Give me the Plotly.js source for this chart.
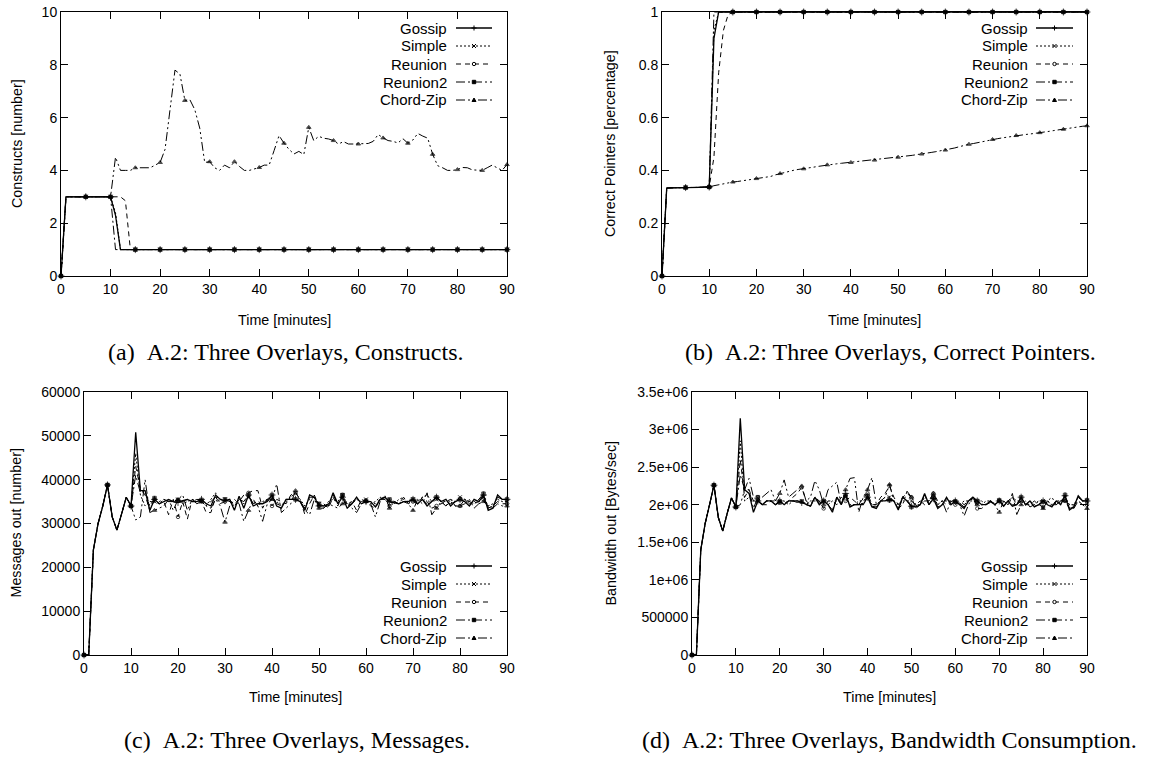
<!DOCTYPE html>
<html><head><meta charset="utf-8">
<script src="https://cdn.plot.ly/plotly-3.0.1.min.js"></script>
<style>html,body{margin:0;padding:0;background:#fff}#chart{width:1158px;height:760px}</style>
</head><body><div id="chart"></div>
<script>
// ---------- DATA ----------
const minutes = [0,1,2,3,4,5,6,7,8,9,10,11,12,13,14,15,16,17,18,19,20,21,22,23,24,25,26,27,28,29,30,31,32,33,34,35,36,37,38,39,40,41,42,43,44,45,46,47,48,49,50,51,52,53,54,55,56,57,58,59,60,61,62,63,64,65,66,67,68,69,70,71,72,73,74,75,76,77,78,79,80,81,82,83,84,85,86,87,88,89,90];
const seriesNames = ['Gossip','Simple','Reunion','Reunion2','Chord-Zip'];

// (a) Constructs [number]
const constructsGossip = [0,3,3,3,3,3,3,3,3,3, 3,2.3,1,1,1,1,1,1,1,1, 1,1,1,1,1,1,1,1,1,1, 1,1,1,1,1,1,1,1,1,1, 1,1,1,1,1,1,1,1,1,1, 1,1,1,1,1,1,1,1,1,1, 1,1,1,1,1,1,1,1,1,1, 1,1,1,1,1,1,1,1,1,1, 1,1,1,1,1,1,1,1,1,1, 1];
const constructsSimple = [0,3,3,3,3,3,3,3,3,3, 3,2.4,1,1,1,1,1,1,1,1, 1,1,1,1,1,1,1,1,1,1, 1,1,1,1,1,1,1,1,1,1, 1,1,1,1,1,1,1,1,1,1, 1,1,1,1,1,1,1,1,1,1, 1,1,1,1,1,1,1,1,1,1, 1,1,1,1,1,1,1,1,1,1, 1,1,1,1,1,1,1,1,1,1, 1];
const constructsReunion = [0,3,3,3,3,3,3,3,3,3, 3,3,3,2.85,1,1,1,1,1,1, 1,1,1,1,1,1,1,1,1,1, 1,1,1,1,1,1,1,1,1,1, 1,1,1,1,1,1,1,1,1,1, 1,1,1,1,1,1,1,1,1,1, 1,1,1,1,1,1,1,1,1,1, 1,1,1,1,1,1,1,1,1,1, 1,1,1,1,1,1,1,1,1,1, 1];
const constructsReunion2 = [0,3,3,3,3,3,3,3,3,3, 3,1,1,1,1,1,1,1,1,1, 1,1,1,1,1,1,1,1,1,1, 1,1,1,1,1,1,1,1,1,1, 1,1,1,1,1,1,1,1,1,1, 1,1,1,1,1,1,1,1,1,1, 1,1,1,1,1,1,1,1,1,1, 1,1,1,1,1,1,1,1,1,1, 1,1,1,1,1,1,1,1,1,1, 1];
const constructsChordZip = [0,3,3,3,3,3,3,3,3,3, 3,4.5,4.0,4.0,4.0,4.1,4.1,4.1,4.1,4.2, 4.3,4.8,6.2,7.8,7.65,6.65,6.68,6.3,5.6,4.3, 4.33,4.1,4.0,4.2,4.1,4.33,4.15,4.0,4.0,4.05, 4.11,4.2,4.2,4.75,5.32,5.03,4.8,4.62,4.72,4.6, 5.63,5.13,5.29,5.22,5.19,5.13,5.0,5.09,5.0,5.0, 5.0,5.0,5.02,5.1,5.36,5.23,5.13,5.1,5.04,5.2, 5.03,5.15,5.4,5.3,5.22,4.61,4.18,4.1,4.0,4.0, 4.03,4.11,4.1,4.02,4.0,4.0,4.1,4.2,4.1,4.0, 4.22];

// (b) Correct Pointers [percentage]
const pointersGossip = [0,0.333,0.334,0.334,0.335,0.335,0.335,0.336,0.336,0.337, 0.337,0.9,1,1,1,1,1,1,1,1, 1,1,1,1,1,1,1,1,1,1, 1,1,1,1,1,1,1,1,1,1, 1,1,1,1,1,1,1,1,1,1, 1,1,1,1,1,1,1,1,1,1, 1,1,1,1,1,1,1,1,1,1, 1,1,1,1,1,1,1,1,1,1, 1,1,1,1,1,1,1,1,1,1, 1];
const pointersSimple = [0,0.333,0.334,0.334,0.335,0.335,0.335,0.336,0.336,0.337, 0.337,0.93,1,1,1,1,1,1,1,1, 1,1,1,1,1,1,1,1,1,1, 1,1,1,1,1,1,1,1,1,1, 1,1,1,1,1,1,1,1,1,1, 1,1,1,1,1,1,1,1,1,1, 1,1,1,1,1,1,1,1,1,1, 1,1,1,1,1,1,1,1,1,1, 1,1,1,1,1,1,1,1,1,1, 1];
const pointersReunion = [0,0.333,0.334,0.334,0.335,0.335,0.335,0.336,0.336,0.337, 0.337,0.45,0.77,0.93,0.99,1,1,1,1,1, 1,1,1,1,1,1,1,1,1,1, 1,1,1,1,1,1,1,1,1,1, 1,1,1,1,1,1,1,1,1,1, 1,1,1,1,1,1,1,1,1,1, 1,1,1,1,1,1,1,1,1,1, 1,1,1,1,1,1,1,1,1,1, 1,1,1,1,1,1,1,1,1,1, 1];
const pointersReunion2 = [0,0.333,0.334,0.334,0.335,0.335,0.335,0.336,0.336,0.337, 0.337,1,1,1,1,1,1,1,1,1, 1,1,1,1,1,1,1,1,1,1, 1,1,1,1,1,1,1,1,1,1, 1,1,1,1,1,1,1,1,1,1, 1,1,1,1,1,1,1,1,1,1, 1,1,1,1,1,1,1,1,1,1, 1,1,1,1,1,1,1,1,1,1, 1,1,1,1,1,1,1,1,1,1, 1];
const pointersChordZip = [0,0.333,0.334,0.334,0.335,0.335,0.335,0.336,0.336,0.337, 0.337,0.342,0.346,0.349,0.352,0.356,0.358,0.360,0.363,0.366, 0.369,0.372,0.375,0.377,0.383,0.388,0.392,0.396,0.401,0.404, 0.406,0.409,0.412,0.415,0.418,0.421,0.423,0.425,0.427,0.429, 0.430,0.432,0.434,0.436,0.437,0.439,0.441,0.443,0.446,0.448, 0.450,0.452,0.455,0.457,0.460,0.462,0.465,0.468,0.471,0.474, 0.477,0.480,0.485,0.490,0.495,0.499,0.502,0.506,0.510,0.514, 0.517,0.520,0.523,0.526,0.529,0.532,0.534,0.536,0.538,0.540, 0.543,0.545,0.548,0.551,0.554,0.556,0.559,0.562,0.565,0.567, 0.569];

// (c) Messages out [number]
const messagesGossip = [0,0,24000,30000,34000,38800,31500,28500,32200,36000, 34000,50800,37500,37500,33000,35500,34500,35000,35500,35000, 34800,35200,35500,35000,35000,35500,34500,34000,36500,35500, 35200,35500,33000,36200,33500,36500,34000,34500,34500,35000, 36500,34000,33500,35500,35500,35500,35000,33000,36500,36000, 34000,34000,34000,37000,34500,36000,33500,34500,36000,34500, 35000,35000,33800,35500,36000,35000,34800,34500,35000,35000, 35500,34500,35500,34000,35000,36000,35000,35500,34000,35000, 35500,35000,34000,35500,35000,36500,33000,33500,36500,35500, 35500];
const messagesSimple = [0,0,24000,30000,34000,38800,31500,28500,32200,36000, 34000,46000,36500,34000,35000,35000,34500,35500,35000,35000, 35500,34500,35000,35500,35000,35000,34000,35500,37000,34500, 35500,35000,34000,35500,34500,36000,35000,34000,35000,35500, 35500,35000,34000,35000,36000,37000,35500,34000,35500,36000, 34500,33500,35000,35500,35000,36500,34500,35000,35500,35000, 35500,34500,35000,36000,35500,35000,34500,35500,36000,34500, 35500,35000,36000,36500,35000,35500,35000,34000,35500,35000, 36000,35500,35000,34500,35500,36000,34000,34500,35500,35000, 35000];
const messagesReunion = [0,0,24000,30000,34000,38800,31500,28500,32200,36000, 34000,43000,38000,36500,33000,35500,34500,35000,32000,35500, 31500,35000,31000,35500,35000,35000,32500,32500,36000,34500, 35000,35500,34000,35000,36500,37000,37500,37500,33500,35500, 34000,35500,35000,34500,36500,37000,35500,32000,34500,36500, 34000,34500,33500,36000,34000,36500,34000,35000,33000,35500, 35000,34000,33500,35500,35500,34000,35000,34500,36000,34500, 35000,34500,36000,35000,33500,34000,34500,35000,35500,34000, 34000,35500,35000,34500,35000,35500,33500,34000,35000,34500, 34500];
const messagesReunion2 = [0,0,24000,30000,34000,38800,31500,28500,32200,36000, 34000,41000,37000,37500,34000,35800,35000,35500,35000,35000, 35300,35000,35500,35000,35500,35400,34500,35000,36000,35500, 35500,35000,34500,35500,35000,36500,34500,35000,34500,35500, 36500,34500,34000,35500,35500,35500,35000,33500,36000,36000, 34500,34000,34500,36500,34500,36500,34000,34500,35500,35000, 35200,35000,34500,35500,36000,35500,35000,34500,35500,35000, 35500,34500,35500,34500,35000,36000,35000,35000,34500,35000, 35500,35500,34500,35000,35500,36800,33500,34000,36000,35500, 35500];
const messagesChordZip = [0,0,24000,30000,34000,38800,31500,28500,32200,36000, 34000,30800,31500,40000,32500,33000,33500,34000,35500,33000, 35500,36500,33000,35500,34500,35000,34000,33500,35500,34000, 30300,34000,35500,34500,30500,33000,35500,34000,30500,34500, 35500,39000,32500,33500,34500,37500,35000,33000,32000,35500, 33500,33500,34500,34000,33500,34500,35000,33500,32500,34500, 35000,34500,31500,35000,36500,33500,35000,34500,35000,34500, 33000,35500,34500,37000,32000,33500,35000,34000,35000,34000, 34000,34500,35500,33500,34500,35000,34000,33500,34500,34000, 34000];

// (d) Bandwidth out [Bytes/sec]
const bandwidthGossip = [0,0,1.4e6,1.75e6,2.0e6,2.26e6,1.83e6,1.65e6,1.88e6,2.09e6, 1.97e6,3.15e6,2.2e6,2.15e6,1.9e6,2.05e6,2.0e6,2.05e6,2.05e6,2.0e6, 2.05e6,2.0e6,2.05e6,2.05e6,2.05e6,2.03e6,2.0e6,1.98e6,2.1e6,2.0e6, 2.05e6,2.0e6,1.9e6,2.1e6,2.0e6,2.15e6,1.97e6,2.0e6,2.0e6,2.0e6, 2.1e6,1.97e6,1.95e6,2.05e6,2.05e6,2.07e6,2.05e6,1.93e6,2.1e6,2.05e6, 1.98e6,1.97e6,2.0e6,2.15e6,2.0e6,2.08e6,1.95e6,2.0e6,2.1e6,2.0e6, 2.05e6,2.0e6,1.95e6,2.05e6,2.1e6,2.05e6,2.0e6,2.0e6,2.05e6,2.0e6, 2.05e6,1.98e6,2.05e6,1.98e6,2.0e6,2.1e6,2.0e6,2.05e6,1.97e6,2.0e6, 2.05e6,2.0e6,1.97e6,2.05e6,2.0e6,2.12e6,1.93e6,1.97e6,2.12e6,2.05e6, 2.05e6];
const bandwidthSimple = [0,0,1.4e6,1.75e6,2.0e6,2.26e6,1.83e6,1.65e6,1.88e6,2.09e6, 1.97e6,2.85e6,2.05e6,2.1e6,2.05e6,2.05e6,2.0e6,2.05e6,2.05e6,2.0e6, 2.05e6,2.05e6,2.0e6,2.05e6,2.05e6,2.05e6,2.0e6,2.05e6,2.05e6,2.05e6, 2.05e6,2.0e6,2.05e6,2.05e6,2.05e6,2.1e6,2.0e6,2.0e6,2.05e6,2.05e6, 2.1e6,2.0e6,2.0e6,2.05e6,2.1e6,2.1e6,2.05e6,2.0e6,2.05e6,2.05e6, 2.05e6,2.0e6,2.0e6,2.1e6,2.05e6,2.1e6,2.0e6,2.05e6,2.05e6,2.05e6, 2.05e6,2.0e6,2.05e6,2.05e6,2.05e6,2.05e6,2.0e6,2.05e6,2.05e6,2.0e6, 2.05e6,2.05e6,2.0e6,2.1e6,2.05e6,2.05e6,2.0e6,2.05e6,2.0e6,2.05e6, 2.05e6,2.05e6,2.0e6,2.05e6,2.05e6,2.1e6,2.0e6,2.0e6,2.1e6,2.05e6, 2.05e6];
const bandwidthReunion = [0,0,1.4e6,1.75e6,2.0e6,2.26e6,1.83e6,1.65e6,1.88e6,2.09e6, 1.97e6,2.6e6,2.1e6,2.2e6,2.05e6,2.1e6,2.0e6,2.0e6,2.05e6,2.05e6, 2.05e6,2.0e6,2.05e6,2.1e6,2.15e6,2.23e6,2.05e6,2.0e6,2.1e6,2.05e6, 1.95e6,2.05e6,2.05e6,2.0e6,2.1e6,2.05e6,2.1e6,2.05e6,2.0e6,2.1e6, 2.15e6,2.0e6,2.0e6,2.1e6,2.15e6,2.25e6,2.1e6,2.0e6,2.1e6,2.15e6, 2.1e6,1.95e6,2.0e6,2.05e6,2.05e6,2.15e6,2.05e6,2.05e6,2.0e6,2.05e6, 2.0e6,2.05e6,2.0e6,2.05e6,2.1e6,1.95e6,1.95e6,2.0e6,2.05e6,2.0e6, 2.05e6,2.0e6,2.05e6,2.1e6,2.0e6,2.05e6,2.0e6,2.0e6,2.05e6,2.0e6, 1.97e6,2.05e6,2.0e6,2.0e6,2.05e6,2.05e6,1.95e6,2.0e6,2.05e6,2.0e6, 2.0e6];
const bandwidthReunion2 = [0,0,1.4e6,1.75e6,2.0e6,2.26e6,1.83e6,1.65e6,1.88e6,2.09e6, 1.97e6,2.4e6,2.2e6,2.2e6,1.95e6,2.1e6,2.0e6,2.05e6,2.05e6,2.0e6, 2.03e6,2.02e6,2.05e6,2.05e6,2.03e6,2.04e6,2.0e6,1.98e6,2.1e6,2.02e6, 2.05e6,2.0e6,1.93e6,2.1e6,2.0e6,2.13e6,1.98e6,2.0e6,2.0e6,2.02e6, 2.12e6,1.98e6,1.97e6,2.05e6,2.05e6,2.06e6,2.05e6,1.95e6,2.1e6,2.05e6, 1.97e6,1.98e6,2.0e6,2.13e6,2.0e6,2.1e6,1.97e6,2.0e6,2.08e6,2.02e6, 2.04e6,2.02e6,1.97e6,2.05e6,2.08e6,2.05e6,2.0e6,2.0e6,2.03e6,2.02e6, 2.06e6,1.98e6,2.05e6,2.0e6,2.0e6,2.1e6,2.0e6,2.03e6,1.98e6,2.0e6, 2.04e6,2.02e6,1.98e6,2.05e6,2.02e6,2.13e6,1.95e6,1.97e6,2.1e6,2.05e6, 2.06e6];
const bandwidthChordZip = [0,0,1.4e6,1.75e6,2.0e6,2.26e6,1.83e6,1.65e6,1.88e6,2.09e6, 1.97e6,2.0e6,2.2e6,2.35e6,2.1e6,2.05e6,2.1e6,2.15e6,2.2e6,2.05e6, 2.15e6,2.33e6,2.1e6,2.15e6,2.2e6,2.25e6,2.05e6,2.1e6,2.32e6,2.2e6, 2.0e6,2.2e6,2.25e6,2.3e6,2.0e6,2.2e6,2.35e6,2.36e6,1.9e6,2.1e6, 2.2e6,2.36e6,2.0e6,2.05e6,2.1e6,2.27e6,2.05e6,1.95e6,2.0e6,2.18e6, 2.1e6,2.0e6,2.05e6,2.0e6,2.05e6,2.15e6,2.0e6,2.05e6,1.9e6,2.05e6, 2.05e6,2.0e6,1.85e6,2.0e6,2.1e6,2.0e6,2.05e6,2.0e6,2.05e6,2.0e6, 1.9e6,2.05e6,2.0e6,2.15e6,1.87e6,2.0e6,2.05e6,1.97e6,2.0e6,2.05e6, 1.95e6,2.05e6,2.1e6,2.0e6,2.05e6,2.05e6,2.0e6,1.95e6,2.05e6,2.0e6, 1.95e6];

// tick labels
const xTickVals = [0,10,20,30,40,50,60,70,80,90];
const xTickText = ['0','10','20','30','40','50','60','70','80','90'];
const yTickValsA = [0,2,4,6,8,10];
const yTickTextA = ['0','2','4','6','8','10'];
const yTickValsB = [0,0.2,0.4,0.6,0.8,1];
const yTickTextB = ['0','0.2','0.4','0.6','0.8','1'];
const yTickValsC = [0,10000,20000,30000,40000,50000,60000];
const yTickTextC = ['0','10000','20000','30000','40000','50000','60000'];
const yTickValsD = [0,500000,1000000,1500000,2000000,2500000,3000000,3500000];
const yTickTextD = ['0','500000','1e+06','1.5e+06','2e+06','2.5e+06','3e+06','3.5e+06'];

// ---------- STYLE ----------
const W = 1158, H = 760;
const SANS = 'Liberation Sans, Arial, Helvetica, sans-serif';
const SERIF = 'Liberation Serif, Times New Roman, serif';
const dashes = ['solid','2px,2px','5px,4px','9px,3px,2px,3px','9px,3px,2px,3px,2px,3px'];
const symbols = ['cross-thin','x-thin','circle-open','square','triangle-up'];
const markerSize = [5,4,3.5,3.5,4];
const px = x => x / W;
const py = y => 1 - y / H;

const panels = [
  {ax:'', series:[constructsGossip,constructsSimple,constructsReunion,constructsReunion2,constructsChordZip],
   box:[61,507,12,276], yr:[0,10], tv:yTickValsA, tt:yTickTextA,
   ytitle:'Constructs [number]', ytx:17, xty:320, caption:'(a)\u2002A.2: Three Overlays, Constructs.', capx:285, capy:352,
   leg:{tr:448, x0:456, x1:492, rows:[28,46,64,82,100]}},
  {ax:'2', series:[pointersGossip,pointersSimple,pointersReunion,pointersReunion2,pointersChordZip],
   box:[662,1087,12,276], yr:[0,1], tv:yTickValsB, tt:yTickTextB,
   ytitle:'Correct Pointers [percentage]', ytx:610, xty:320, caption:'(b)\u2002A.2: Three Overlays, Correct Pointers.', capx:890, capy:352,
   leg:{tr:1029, x0:1036, x1:1073, rows:[28,46,64,82,100]}},
  {ax:'3', series:[messagesGossip,messagesSimple,messagesReunion,messagesReunion2,messagesChordZip],
   box:[84,507,392,655], yr:[0,60000], tv:yTickValsC, tt:yTickTextC,
   ytitle:'Messages out [number]', ytx:15, xty:697, caption:'(c)\u2002A.2: Three Overlays, Messages.', capx:297, capy:740,
   leg:{tr:448, x0:456, x1:492, rows:[566,584,602,620,638]}},
  {ax:'4', series:[bandwidthGossip,bandwidthSimple,bandwidthReunion,bandwidthReunion2,bandwidthChordZip],
   box:[692,1087,392,655], yr:[0,3500000], tv:yTickValsD, tt:yTickTextD,
   ytitle:'Bandwidth out [Bytes/sec]', ytx:610, xty:697, caption:'(d)\u2002A.2: Three Overlays, Bandwidth Consumption.', capx:889, capy:740,
   leg:{tr:1029, x0:1036, x1:1073, rows:[566,584,602,620,638]}}
];

const axisBase = {
  showline:true, linecolor:'#000', linewidth:1, mirror:'allticks',
  ticks:'inside', ticklen:7, tickcolor:'#000', tickwidth:1,
  showgrid:false, zeroline:false, fixedrange:true,
  tickfont:{family:SANS, size:14, color:'#000'}
};

const traces = [];
const layout = {
  width:W, height:H, margin:{l:0,r:0,t:0,b:0},
  paper_bgcolor:'#fff', plot_bgcolor:'#fff', showlegend:false,
  annotations:[], shapes:[]
};
const annText = (text, x, y, opts) => Object.assign({text, x:px(x), y:py(y), xref:'paper', yref:'paper', showarrow:false,
  borderpad:0, font:{family:SANS, size:14.3, color:'#000'}}, opts||{});

panels.forEach((p) => {
  const xa = 'xaxis' + p.ax, ya = 'yaxis' + p.ax;
  layout[xa] = Object.assign({}, axisBase, {domain:[px(p.box[0]), px(p.box[1])], range:[0,90],
    tickmode:'array', tickvals:xTickVals, ticktext:xTickText, anchor:'y'+p.ax});
  layout[ya] = Object.assign({}, axisBase, {domain:[py(p.box[3]), py(p.box[2])], range:p.yr,
    tickmode:'array', tickvals:p.tv, ticktext:p.tt, anchor:'x'+p.ax});
  p.series.forEach((vals, s) => {
    traces.push({
      type:'scatter', mode:'lines+markers', name:seriesNames[s],
      x:minutes, y:vals, xaxis:'x'+p.ax, yaxis:'y'+p.ax, cliponaxis:false,
      line:{color:'#000', width: s===0 ? 1.3 : 1, dash:dashes[s]},
      marker:{symbol:symbols[s], color:'#000', size:minutes.map(m => m % 5 === 0 ? markerSize[s] : 0),
        line:{color:'#000', width:1}},
      hoverinfo:'skip'
    });
  });
  // axis titles
  const cx = (p.box[0] + p.box[1]) / 2, cy = (p.box[2] + p.box[3]) / 2;
  layout.annotations.push(annText('Time [minutes]', cx, p.xty, {xanchor:'center', yanchor:'middle'}));
  layout.annotations.push(annText(p.ytitle, p.ytx, cy, {xanchor:'center', yanchor:'middle', textangle:-90}));
  // caption
  layout.annotations.push(annText(p.caption, p.capx, p.capy, {xanchor:'center', yanchor:'middle',
    font:{family:SERIF, size:24, color:'#000'}}));
  // key
  const L = p.leg;
  seriesNames.forEach((nm, s) => {
    const y = L.rows[s];
    layout.annotations.push(annText(nm, L.tr, y, {xanchor:'right', yanchor:'middle', font:{family:SANS, size:15, color:'#000'}}));
    layout.shapes.push({type:'line', xref:'paper', yref:'paper', x0:px(L.x0), x1:px(L.x1), y0:py(y), y1:py(y),
      line:{color:'#000', width: s===0 ? 1.3 : 1, dash:dashes[s]}});
    const m = (L.x0 + L.x1) / 2;
    let path = null, fill = 'rgba(0,0,0,0)';
    if (s === 0) path = `M${px(m-2.5)},${py(y)} L${px(m+2.5)},${py(y)} M${px(m)},${py(y-2.5)} L${px(m)},${py(y+2.5)}`;
    if (s === 1) path = `M${px(m-2)},${py(y-2)} L${px(m+2)},${py(y+2)} M${px(m-2)},${py(y+2)} L${px(m+2)},${py(y-2)}`;
    if (s === 4) { path = `M${px(m-2)},${py(y+1.5)} L${px(m+2)},${py(y+1.5)} L${px(m)},${py(y-2)} Z`; fill = '#000'; }
    if (path) {
      layout.shapes.push({type:'path', xref:'paper', yref:'paper', path, fillcolor:fill, line:{color:'#000', width:1}});
    } else if (s === 2) {
      layout.shapes.push({type:'circle', xref:'paper', yref:'paper', x0:px(m-1.7), x1:px(m+1.7), y0:py(y+1.7), y1:py(y-1.7),
        fillcolor:'#fff', line:{color:'#000', width:1}});
    } else {
      layout.shapes.push({type:'rect', xref:'paper', yref:'paper', x0:px(m-1.7), x1:px(m+1.7), y0:py(y+1.7), y1:py(y-1.7),
        fillcolor:'#000', line:{color:'#000', width:1}});
    }
  });
});

Plotly.newPlot('chart', traces, layout, {displayModeBar:false, staticPlot:true});
</script>
</body></html>
